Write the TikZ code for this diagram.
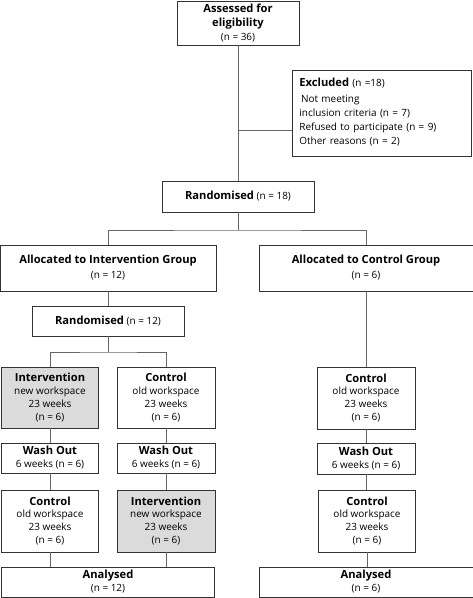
\documentclass[tikz,border=0pt]{standalone}
\usepackage{fontspec}
\setmainfont{Open Sans}
\begin{document}
\begin{tikzpicture}[x=1bp,y=-1bp,
  box/.style={draw=black!80, line width=0.8pt, inner sep=0pt, align=center,
    font=\fontsize{10}{13}\selectfont},
  shaded/.style={box, fill=black!14},
  conn/.style={draw=black!60, line width=0.8pt}]
\newcommand{\hb}[1]{{\fontsize{11.2}{13}\selectfont\bfseries #1}}
\useasboundingbox (0,0) rectangle (473,598);
% nodes
\node[box, minimum width=122bp, minimum height=44bp] (assess) at (238,23)
  {\hb{Assessed for}\\[2pt]\hb{eligibility}\\[1pt](n = 36)};
\node[box, minimum width=179bp, minimum height=86bp, align=left, anchor=north west,
  text width=165bp, inner xsep=7bp, inner ysep=0pt] (excl) at (292,70)
  {\rule{0pt}{12bp}\hb{Excluded} (n =18)\\[4pt]
   \,Not meeting\\[1pt] inclusion criteria (n = 7)\\[1pt] Refused to participate (n = 9)\\[1pt] Other reasons (n = 2)\rule[-8bp]{0pt}{8bp}};
\node[box, minimum width=152bp, minimum height=31bp] (rand1) at (238,196.5)
  {\hb{Randomised} (n = 18)};
\node[box, minimum width=216bp, minimum height=46bp] (allocI) at (108,268)
  {\hb{Allocated to Intervention Group}\\[2pt](n = 12)};
\node[box, minimum width=214bp, minimum height=46bp] (allocC) at (366,268)
  {\hb{Allocated to Control Group}\\[2pt](n = 6)};
\node[box, minimum width=152bp, minimum height=30bp] (rand2) at (108,321)
  {\hb{Randomised} (n = 12)};
% left arm
\node[shaded, minimum width=97bp, minimum height=61bp] (int1) at (50,397.5)
  {\hb{Intervention}\\new workspace\\23 weeks\\(n = 6)};
\node[box, minimum width=97bp, minimum height=30bp] (wash1) at (50,458)
  {\hb{Wash Out}\\6 weeks (n = 6)};
\node[box, minimum width=97bp, minimum height=62bp] (con2) at (50,521)
  {\hb{Control}\\old workspace\\23 weeks\\(n = 6)};
% middle arm
\node[box, minimum width=98bp, minimum height=61bp] (con1) at (166,397.5)
  {\hb{Control}\\old workspace\\23 weeks\\(n = 6)};
\node[box, minimum width=98bp, minimum height=30bp] (wash2) at (166,458)
  {\hb{Wash Out}\\6 weeks (n = 6)};
\node[shaded, minimum width=98bp, minimum height=62bp] (int2) at (166,521)
  {\hb{Intervention}\\new workspace\\23 weeks\\(n = 6)};
\node[box, minimum width=213bp, minimum height=30bp] (anaI) at (108,582)
  {\hb{Analysed}\\(n = 12)};
% right arm
\node[box, minimum width=98bp, minimum height=62bp] (conR1) at (366,398)
  {\hb{Control}\\old workspace\\23 weeks\\(n = 6)};
\node[box, minimum width=98bp, minimum height=31bp] (washR) at (366,458.5)
  {\hb{Wash Out}\\6 weeks (n = 6)};
\node[box, minimum width=97bp, minimum height=62bp] (conR2) at (367,521)
  {\hb{Control}\\old workspace\\23 weeks\\(n = 6)};
\node[box, minimum width=214bp, minimum height=30bp] (anaR) at (366,582)
  {\hb{Analysed}\\(n = 6)};
% connectors
\coordinate (ex) at (238,130);
\coordinate (s1) at (238,230);
\coordinate (s2) at (108,352);
\draw[conn] (assess.south) -- (rand1.north);
\draw[conn] (ex) -- (excl.west |- ex);
\draw[conn] (rand1.south) -- (s1);
\draw[conn] (allocI.north) |- (s1) -| (allocC.north);
\draw[conn] (allocI.south) -- (rand2.north);
\draw[conn] (rand2.south) -- (s2);
\draw[conn] (int1.north) |- (s2) -| (con1.north);
\draw[conn] (int1.south) -- (wash1.north);
\draw[conn] (wash1.south) -- (con2.north);
\draw[conn] (con2.south) -- (con2.south |- anaI.north);
\draw[conn] (con1.south) -- (wash2.north);
\draw[conn] (wash2.south) -- (int2.north);
\draw[conn] (int2.south) -- (int2.south |- anaI.north);
\draw[conn] (allocC.south) -- (conR1.north);
\draw[conn] (conR1.south) -- (washR.north);
\draw[conn] (washR.south) -- (washR.south |- conR2.north);
\draw[conn] (conR2.south) -- (conR2.south |- anaR.north);
\end{tikzpicture}
\end{document}
